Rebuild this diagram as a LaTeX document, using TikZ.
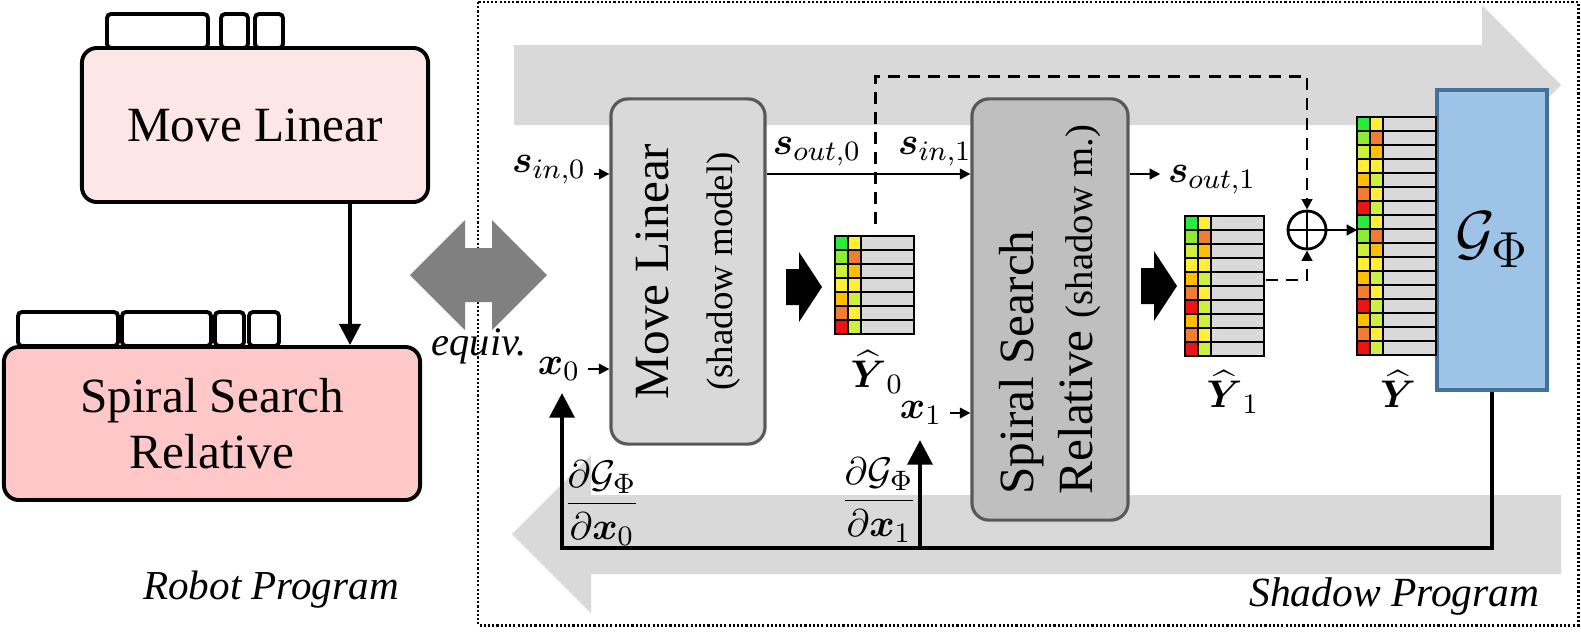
\documentclass[tikz,border=0pt]{standalone}
\usepackage{amsmath}
\usepackage{amssymb}
\usepackage{fontspec}
\setmainfont{Liberation Serif}
\usepackage{tikz}
\usetikzlibrary{arrows.meta,positioning}

\definecolor{pinkA}{RGB}{253,230,230}
\definecolor{pinkB}{RGB}{255,200,200}
\definecolor{flowgray}{RGB}{217,217,217}
\definecolor{equivgray}{RGB}{128,128,128}
\definecolor{smlfill}{RGB}{217,217,217}
\definecolor{ssfill}{RGB}{191,191,191}
\definecolor{boxborder}{RGB}{89,89,89}
\definecolor{gfill}{RGB}{157,195,230}
\definecolor{gborder}{RGB}{65,113,156}
\definecolor{gre}{RGB}{40,235,60}
\definecolor{lgr}{RGB}{140,235,50}
\definecolor{ygr}{RGB}{205,240,60}
\definecolor{yel}{RGB}{255,238,50}
\definecolor{amb}{RGB}{255,190,0}
\definecolor{ora}{RGB}{240,125,50}
\definecolor{red}{RGB}{235,20,20}
\definecolor{cellgray}{RGB}{217,217,217}

% rows of the prediction matrices
\def\rowsA{gre/yel,lgr/ora,ygr/amb,yel/yel,amb/ygr,ora/yel,red/ygr}
\edef\rowsB{\rowsA,amb/ygr,ora/yel,red/ygr}
\edef\rowsC{\rowsA,\rowsB}

\newcommand{\predmat}[2]{%
  \begin{scope}[shift={(#1.north west)}]
    \foreach \ca/\cb [count=\row from 0] in #2 {
      \fill[\ca] (0,\row*14) rectangle ++(13,14);
      \fill[\cb] (13,\row*14) rectangle ++(13,14);
      \fill[cellgray] (26,\row*14) rectangle ++(53,14);
      \draw[cellline] (0,\row*14) rectangle ++(79,14) (13,\row*14) -- ++(0,14) (26,\row*14) -- ++(0,14);
    }
  \end{scope}}

\begin{document}
\begin{tikzpicture}[x=0.01cm, y=-0.01cm,
    progbox/.style={draw, line width=1.1pt, rounded corners=0.15cm, inner sep=0, font=\fontsize{14}{16}\selectfont},
    tabbox/.style={draw, fill=white, line width=1.1pt, rounded corners=0.04cm},
    shadowbox/.style={draw=boxborder, line width=0.9pt, rounded corners=0.17cm, inner sep=0},
    matbox/.style={minimum width=0.79cm, minimum height=0.98cm, inner sep=0},
    cellline/.style={line width=0.6pt},
    lbl/.style={inner sep=2pt, font=\fontsize{11}{13}\selectfont},
    sarrow/.style={line width=0.6pt, -{Triangle[length=3pt,width=3pt]}},
    fbline/.style={line width=1.3pt, -{Triangle[length=7pt,width=7pt]}},
    dashline/.style={line width=0.75pt, dash pattern=on 3.4pt off 2.3pt, -{Triangle[length=3pt,width=3pt]}},
    frame/.style={line width=0.85pt, dash pattern=on 0.6pt off 0.6pt}
]
\useasboundingbox (0,0) rectangle (1581,642);

% flow arrows in the background
\fill[flowgray] (514,45) -- (1482,45) -- (1482,5) -- (1561,85) -- (1482,165) -- (1482,125) -- (514,125) -- cycle;
\fill[flowgray] (1561,495) -- (591,495) -- (591,455) -- (512,534) -- (591,613) -- (591,574) -- (1561,574) -- cycle;

\draw[frame] (478,2) rectangle (1578,625);
\fill[equivgray] (410,275) -- (465,220) -- (465,248) -- (492,248) -- (492,220) -- (547,275)
    -- (492,330) -- (492,302) -- (465,302) -- (465,330) -- cycle;
\node[font=\itshape\fontsize{11.5}{13}\selectfont] (equiv) at (479,346) {equiv.};

% robot program
\foreach \x/\w in {107/101,221/27,255/28}
    \draw[tabbox] (\x,14) rectangle ++(\w,34);
\node[progbox, fill=pinkA, minimum width=3.46cm, minimum height=1.54cm] (ml) at (255,125) {Move Linear};
\foreach \x/\w in {18/100,122/89,215/29,249/30}
    \draw[tabbox] (\x,312) rectangle ++(\w,34);
\node[progbox, fill=pinkB, minimum width=4.16cm, minimum height=1.53cm, align=center] (ss) at (212,423.5) {Spiral Search\\Relative};
\draw[line width=1.1pt, -{Triangle[length=6pt,width=6pt]}] (ml.south -| 350,0) -- (ss.north -| 350,0);
\node[font=\itshape\fontsize{11.7}{14}\selectfont] (robot) at (271,590) {Robot Program};

% shadow program
\node[shadowbox, fill=smlfill, minimum width=1.54cm, minimum height=3.45cm] (sml) at (688,271.5) {};
\node[rotate=90, align=center, font=\fontsize{14}{18}\selectfont] at (sml) {Move Linear\\{\fontsize{10.5}{18}\selectfont (shadow model)}};
\node[shadowbox, fill=ssfill, minimum width=1.56cm, minimum height=4.21cm] (ssrel) at (1050,309.5) {};
\node[rotate=90, align=left, font=\fontsize{14}{17}\selectfont] at (ssrel) {Spiral Search\\Relative {\fontsize{11}{17}\selectfont (shadow m.)}};
\node[draw=gborder, fill=gfill, line width=1pt, minimum width=1.1cm, minimum height=3cm, font=\fontsize{19}{21}\selectfont] (gphi) at (1492,240) {$\mathcal{G}_{\Phi}$};

\node[matbox] (Y0) at (875.5,286) {};
\node[matbox, minimum height=1.4cm] (Y1) at (1225.5,287) {};
\node[matbox, minimum height=2.38cm] (Y) at (1397.5,237) {};
\predmat{Y0}{\rowsA}
\predmat{Y1}{\rowsB}
\predmat{Y}{\rowsC}
\node[lbl] (y0l) at (877,372) {$\widehat{\boldsymbol{Y}}_0$};
\node[lbl] (y1l) at (1233,392) {$\widehat{\boldsymbol{Y}}_1$};
\node[lbl] (yl) at (1398,389) {$\widehat{\boldsymbol{Y}}$};

\foreach \bx/\by in {786/287,1141/286}
    \fill (\bx,\by-18) -- (\bx+13,\by-18) -- (\bx+13,\by-35) -- (\bx+36,\by) -- (\bx+13,\by+35) -- (\bx+13,\by+18) -- (\bx,\by+18) -- cycle;

\node[draw, circle, line width=0.8pt, minimum size=0.38cm, inner sep=0] (plus) at (1307,230) {};
\draw[line width=0.8pt] (plus.north) -- (plus.south) (plus.west) -- (plus.east);
\draw[dashline] ([yshift=0.12cm]Y0.north) -- ++(0,-148) -| (plus.north);
\draw[dashline] ([yshift=0.07cm]Y1.east) -| (plus.south);
\draw[sarrow] (plus.east) -- (plus.east -| Y.west);

% states and inputs
\coordinate (sline) at (0,174);
\node[lbl] (sin0) at (549,170) {$\boldsymbol{s}_{in,0}$};
\node[lbl] (sout0) at (817,152) {$\boldsymbol{s}_{out,0}$};
\node[lbl] (sin1) at (935,152) {$\boldsymbol{s}_{in,1}$};
\node[lbl] (sout1) at (1212,180) {$\boldsymbol{s}_{out,1}$};
\draw[sarrow] (sin0.east |- sline) -- (sml.west |- sline);
\draw[sarrow] (sml.east |- sline) -- (ssrel.west |- sline);
\draw[sarrow] (ssrel.east |- sline) -- (sout1.west |- sline);
\node[lbl] (x0) at (559,369) {$\boldsymbol{x}_0$};
\draw[sarrow] (x0.east) -- (x0 -| sml.west);
\node[lbl] (x1) at (921,413) {$\boldsymbol{x}_1$};
\draw[sarrow] (x1.east) -- (x1 -| ssrel.west);

% gradients
\coordinate (fbl) at (562,548);
\coordinate (tip0) at (562,393);
\coordinate (tip1) at (920,440);
\draw[fbline] (gphi.south) |- (fbl) -- (tip0);
\draw[fbline] (tip1 |- fbl) -- (tip1);
\node[lbl] (dx0) at (602,503) {$\dfrac{\partial\mathcal{G}_{\Phi}}{\partial\boldsymbol{x}_0}$};
\node[lbl] (dx1) at (879,500) {$\dfrac{\partial\mathcal{G}_{\Phi}}{\partial\boldsymbol{x}_1}$};

\node[font=\itshape\fontsize{11.8}{14}\selectfont, anchor=east] (shadow) at (1552,597) {Shadow Program};

\end{tikzpicture}
\end{document}
